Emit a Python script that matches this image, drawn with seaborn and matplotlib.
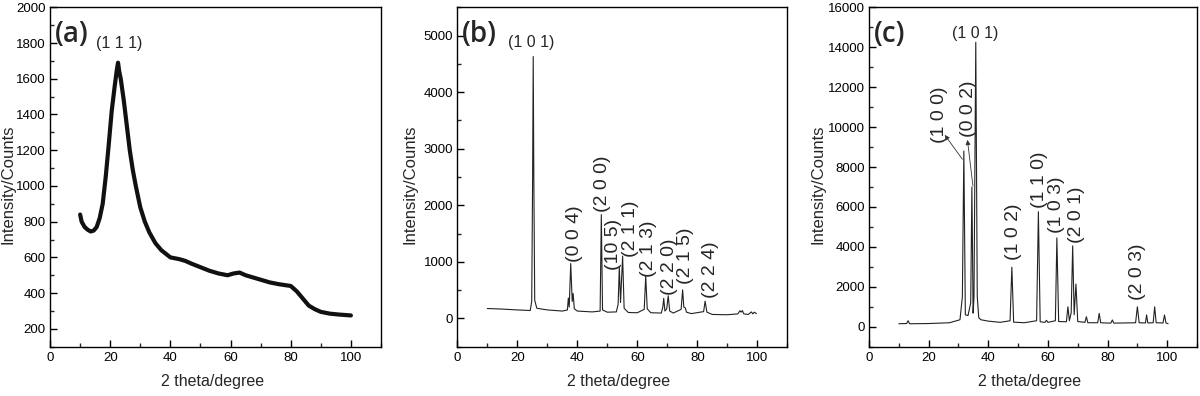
import numpy as np
import pandas as pd
import matplotlib
matplotlib.use('Agg')
import matplotlib.pyplot as plt
from matplotlib.ticker import MultipleLocator
import seaborn as sns

# (a) amorphous pattern
theta_a = [10.0, 10.5, 11.5, 12.5, 13.5, 14.5, 15.5, 16.5, 17.5, 18.5, 19.5, 20.5, 21.5,
           22.2, 22.6, 23.0, 23.5, 24.5, 25.5, 26.5, 27.5, 28.5, 30, 31.5, 33, 35, 37,
           40, 43, 45, 47, 50, 53, 56, 59, 61, 63, 65, 67, 70, 73, 76, 78, 80, 82, 84,
           86, 88, 90, 93, 96, 100]
counts_a = [840, 800, 770, 755, 745, 750, 770, 820, 900, 1050, 1230, 1420, 1560,
            1650, 1690, 1640, 1600, 1480, 1340, 1200, 1090, 1000, 880, 800, 740, 680, 640,
            600, 590, 580, 565, 545, 525, 510, 500, 510, 515, 500, 490, 475, 460, 450, 445,
            440, 410, 370, 330, 310, 295, 285, 280, 275]

# (b) anatase pattern
theta_b = [10.0, 15, 20, 24.3, 24.8, 25.1, 25.3, 25.5, 25.8, 26.5, 30, 35, 36.7, 37.0,
           37.3, 37.8, 38.3, 38.6, 39.0, 40, 45, 47.6, 48.0, 48.4, 50, 53, 53.6, 54.0,
           54.4, 55.1, 55.6, 57, 60, 62.3, 62.8, 63.3, 64.5, 68, 68.5, 68.8, 69.2, 69.8,
           70.3, 70.8, 72, 74.6, 75.1, 75.5, 76.0, 76.4, 78, 82.1, 82.6, 83.2, 85, 90,
           93.5, 94.2, 94.6, 95.0, 95.5, 97, 98, 98.5, 99, 99.7]
counts_b = [175, 165, 150, 140, 300, 2500, 4630, 2500, 320, 180, 150, 130, 150, 360,
            200, 970, 300, 440, 170, 130, 115, 130, 1835, 150, 110, 115, 250, 910,
            280, 1100, 180, 105, 100, 160, 750, 170, 100, 95, 200, 355, 130, 170,
            400, 130, 95, 160, 505, 200, 185, 110, 85, 120, 305, 110, 70, 65,
            80, 135, 110, 140, 80, 70, 115, 80, 110, 85]
labels_b = ['(0 0 4)', '(2 0 0)', '(10 5)', '(2 1 1)', '(2 1 3)', '(2 2 0)', '(2 1 5)', '(2 2 4)']
label_x_b = [39.1, 48.5, 52.1, 57.6, 63.8, 70.7, 76.2, 84.5]
label_y_b = [1000, 1890, 855, 1090, 740, 410, 605, 355]

# (c) zincite pattern
theta_c = [10.0, 12.6, 13.1, 13.6, 20, 27, 30.5, 31.3, 31.8, 32.3, 33.2, 34.1, 34.5,
           34.9, 35.2, 35.8, 36.3, 36.8, 37.5, 40, 44, 47.3, 47.9, 48.5, 52, 56.2,
           56.8, 57.4, 59.0, 59.5, 60.0, 62.5, 63.0, 63.6, 66.2, 66.7, 67.2, 67.8, 68.3,
           68.8, 69.4, 70.0, 72.4, 72.9, 73.4, 76.7, 77.2, 77.7, 81.1, 81.6, 82.1, 89.4,
           90.0, 90.6, 92.7, 93.1, 93.5, 95.3, 95.8, 96.3, 98.6, 99.1, 99.6, 100.3]
counts_c = [150, 160, 300, 150, 160, 200, 350, 1500, 8800, 600, 560, 1200, 7000,
            680, 1500, 14250, 1500, 450, 350, 280, 220, 300, 2980, 230, 200, 300,
            5760, 250, 220, 320, 220, 300, 4450, 260, 250, 1000, 300, 700, 4050,
            600, 2140, 260, 220, 500, 200, 200, 670, 200, 180, 340, 180, 200,
            1000, 200, 190, 590, 190, 200, 1000, 200, 190, 590, 190, 150]
labels_c = ['(1 0 2)', '(1 1 0)', '(1 0 3)', '(2 0 1)', '(2 0 3)']
label_x_c = [48.4, 57.1, 62.9, 69.7, 90.0]
label_y_c = [3340, 5930, 4680, 4180, 1340]

sns.set_style('ticks')
plt.rcParams['font.family'] = ['Liberation Sans', 'DejaVu Sans']
plt.rcParams['axes.linewidth'] = 1.0
plt.rcParams['xtick.direction'] = 'in'
plt.rcParams['ytick.direction'] = 'in'

fig = plt.figure(figsize=(12, 3.96), dpi=100)
ax_a = fig.add_axes([0.0417, 0.1245, 0.2758, 0.857])
ax_b = fig.add_axes([0.3811, 0.1245, 0.2750, 0.857])
ax_c = fig.add_axes([0.7242, 0.1245, 0.2733, 0.857])

rot_font = dict(fontsize=14, rotation=90, ha='center', va='bottom')

df_a = pd.DataFrame({'theta': theta_a, 'counts': counts_a})
df_b = pd.DataFrame({'theta': theta_b, 'counts': counts_b})
df_c = pd.DataFrame({'theta': theta_c, 'counts': counts_c})

sns.lineplot(data=df_a, x='theta', y='counts', ax=ax_a, color='#111111', lw=3.0,
             estimator=None, sort=False)
sns.lineplot(data=df_b, x='theta', y='counts', ax=ax_b, color='#222222', lw=0.8,
             estimator=None, sort=False)
sns.lineplot(data=df_c, x='theta', y='counts', ax=ax_c, color='#222222', lw=0.8,
             estimator=None, sort=False)

limits = {ax_a: (100, 2000, 200, 100), ax_b: (-500, 5500, 1000, 500), ax_c: (-1000, 16000, 2000, 1000)}
label_x = {ax_a: -0.103, ax_b: -0.12, ax_c: -0.132}
for ax, (lo, hi, major, minor) in limits.items():
    ax.set_xlim(0, 110)
    ax.set_ylim(lo, hi)
    ax.xaxis.set_major_locator(MultipleLocator(20))
    ax.xaxis.set_minor_locator(MultipleLocator(10))
    ax.yaxis.set_major_locator(MultipleLocator(major))
    ax.yaxis.set_minor_locator(MultipleLocator(minor))
    ax.tick_params(which='major', length=5, width=1, labelsize=9.5, colors='black')
    ax.tick_params(which='minor', length=3, width=1)
    ax.tick_params(axis='y', pad=3)
    ax.set_xlabel('2 theta/degree', fontsize=11.5)
    ax.set_ylabel('Intensity/Counts', fontsize=12)
    ax.yaxis.set_label_coords(label_x[ax], 0.48)
    ax.xaxis.set_label_coords(0.49, -0.08)
    for s in ax.spines.values():
        s.set_visible(True)
        s.set_color('black')

for ax, tag in zip([ax_a, ax_b, ax_c], ['(a)', '(b)', '(c)']):
    ax.text(0.015, 0.962, tag, transform=ax.transAxes, family='Open Sans',
            fontsize=20, fontweight='semibold', ha='left', va='top')

ax_a.text(23.0, 1800, '(1 1 1)', fontsize=11.5, ha='center', va='center')
ax_b.text(24.7, 4870, '(1 0 1)', fontsize=11.5, ha='center', va='center')
ax_c.text(35.7, 14700, '(1 0 1)', fontsize=11.5, ha='center', va='center')

for txt, x, y in zip(labels_b, label_x_b, label_y_b):
    ax_b.text(x, y, txt, **rot_font)
for txt, x, y in zip(labels_c, label_x_c, label_y_c):
    ax_c.text(x, y, txt, **rot_font)

ax_c.text(23.7, 9190, '(1 0 0)', **rot_font)
ax_c.text(33.2, 9520, '(0 0 2)', **rot_font)
arrow = dict(arrowstyle='-|>', color='#333333', lw=0.6, mutation_scale=7, shrinkA=0, shrinkB=0)
ax_c.annotate('', xy=(25.4, 9610), xytext=(31.3, 8390), arrowprops=arrow)
ax_c.annotate('', xy=(33.0, 9360), xytext=(34.85, 7050), arrowprops=arrow)

fig.savefig('out.png', dpi=100)
